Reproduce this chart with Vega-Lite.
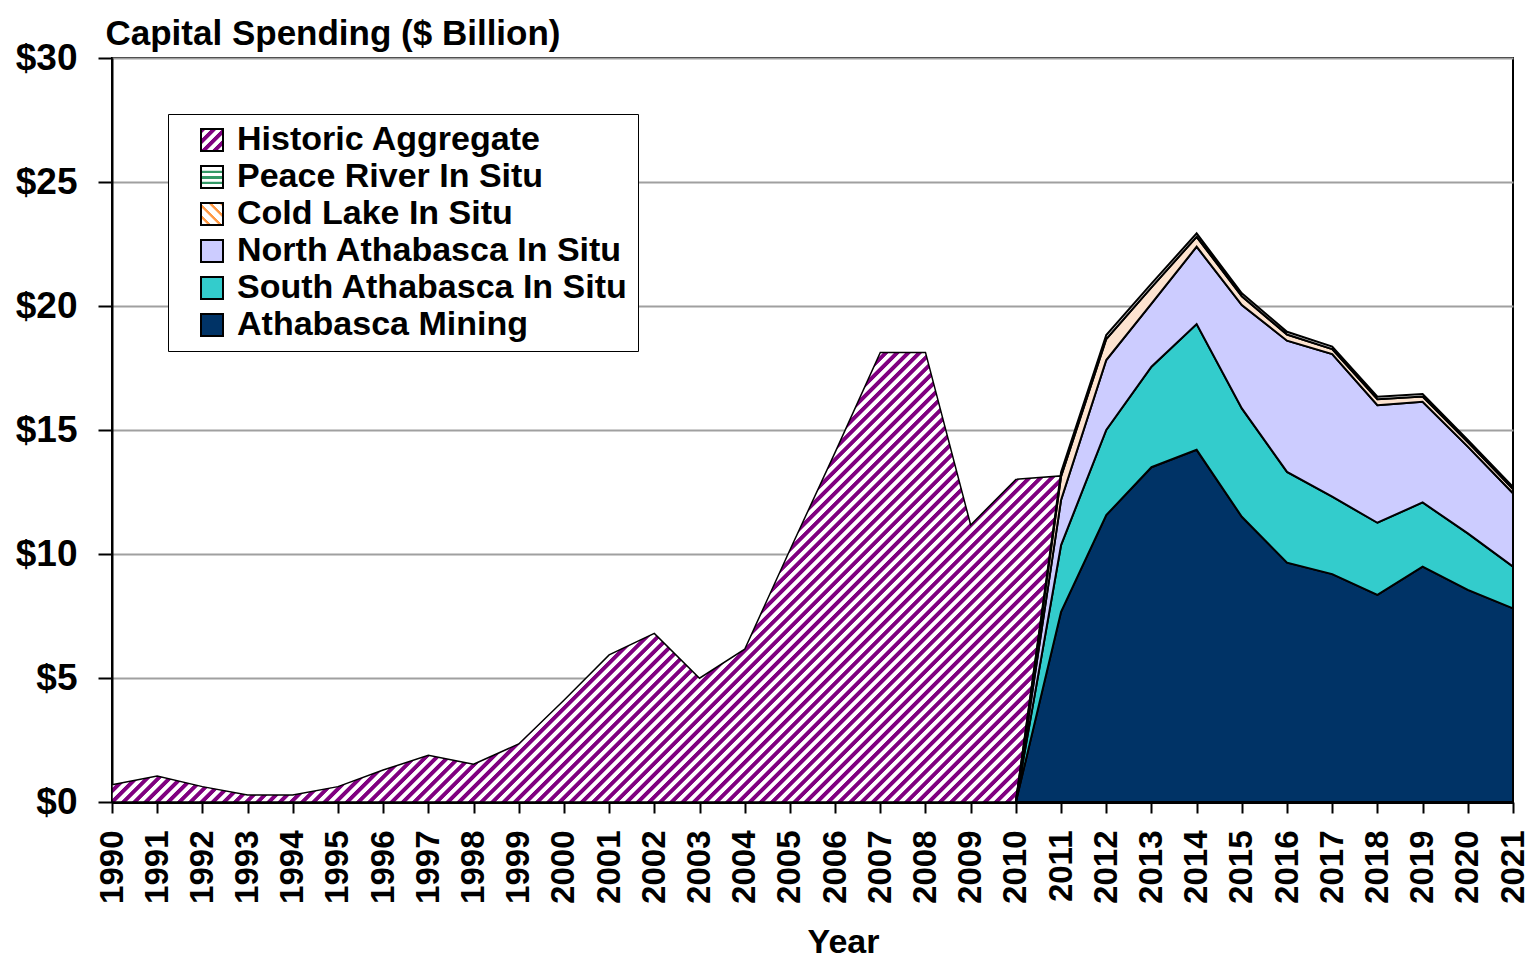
{
  "$schema": "https://vega.github.io/schema/vega-lite/v6.json",
  "width": 1401,
  "height": 744,
  "autosize": "none",
  "padding": {"left": 112, "top": 58, "right": 19, "bottom": 158},
  "background": "white",
  "config": {"view": {"stroke": "black", "strokeWidth": 2}, "font": "Liberation Sans"},
  "datasets": {
    "historic": [
      {"year": 1990, "value": 0.7}, {"year": 1991, "value": 1.05}, {"year": 1992, "value": 0.62},
      {"year": 1993, "value": 0.28}, {"year": 1994, "value": 0.28}, {"year": 1995, "value": 0.62},
      {"year": 1996, "value": 1.29}, {"year": 1997, "value": 1.88}, {"year": 1998, "value": 1.52},
      {"year": 1999, "value": 2.34}, {"year": 2000, "value": 4.1}, {"year": 2001, "value": 5.93},
      {"year": 2002, "value": 6.8}, {"year": 2003, "value": 4.99}, {"year": 2004, "value": 6.16},
      {"year": 2005, "value": 10.16}, {"year": 2006, "value": 14.1}, {"year": 2007, "value": 18.13},
      {"year": 2008, "value": 18.13}, {"year": 2009, "value": 11.17}, {"year": 2010, "value": 13.01},
      {"year": 2011, "value": 13.15}
    ],
    "forecast": [
      {"year": 2010, "series": "Athabasca Mining", "value": 0},
      {"year": 2010, "series": "South Athabasca In Situ", "value": 0},
      {"year": 2010, "series": "North Athabasca In Situ", "value": 0},
      {"year": 2010, "series": "Cold Lake In Situ", "value": 0},
      {"year": 2010, "series": "Peace River In Situ", "value": 0},
      {"year": 2011, "series": "Athabasca Mining", "value": 7.67},
      {"year": 2011, "series": "South Athabasca In Situ", "value": 2.69},
      {"year": 2011, "series": "North Athabasca In Situ", "value": 1.82},
      {"year": 2011, "series": "Cold Lake In Situ", "value": 0.95},
      {"year": 2011, "series": "Peace River In Situ", "value": 0.17},
      {"year": 2012, "series": "Athabasca Mining", "value": 11.57},
      {"year": 2012, "series": "South Athabasca In Situ", "value": 3.43},
      {"year": 2012, "series": "North Athabasca In Situ", "value": 2.82},
      {"year": 2012, "series": "Cold Lake In Situ", "value": 0.85},
      {"year": 2012, "series": "Peace River In Situ", "value": 0.16},
      {"year": 2013, "series": "Athabasca Mining", "value": 13.5},
      {"year": 2013, "series": "South Athabasca In Situ", "value": 4.05},
      {"year": 2013, "series": "North Athabasca In Situ", "value": 2.55},
      {"year": 2013, "series": "Cold Lake In Situ", "value": 0.65},
      {"year": 2013, "series": "Peace River In Situ", "value": 0.15},
      {"year": 2014, "series": "Athabasca Mining", "value": 14.2},
      {"year": 2014, "series": "South Athabasca In Situ", "value": 5.07},
      {"year": 2014, "series": "North Athabasca In Situ", "value": 3.12},
      {"year": 2014, "series": "Cold Lake In Situ", "value": 0.4},
      {"year": 2014, "series": "Peace River In Situ", "value": 0.14},
      {"year": 2015, "series": "Athabasca Mining", "value": 11.5},
      {"year": 2015, "series": "South Athabasca In Situ", "value": 4.37},
      {"year": 2015, "series": "North Athabasca In Situ", "value": 4.17},
      {"year": 2015, "series": "Cold Lake In Situ", "value": 0.35},
      {"year": 2015, "series": "Peace River In Situ", "value": 0.12},
      {"year": 2016, "series": "Athabasca Mining", "value": 9.65},
      {"year": 2016, "series": "South Athabasca In Situ", "value": 3.66},
      {"year": 2016, "series": "North Athabasca In Situ", "value": 5.29},
      {"year": 2016, "series": "Cold Lake In Situ", "value": 0.25},
      {"year": 2016, "series": "Peace River In Situ", "value": 0.11},
      {"year": 2017, "series": "Athabasca Mining", "value": 9.19},
      {"year": 2017, "series": "South Athabasca In Situ", "value": 3.12},
      {"year": 2017, "series": "North Athabasca In Situ", "value": 5.75},
      {"year": 2017, "series": "Cold Lake In Situ", "value": 0.2},
      {"year": 2017, "series": "Peace River In Situ", "value": 0.1},
      {"year": 2018, "series": "Athabasca Mining", "value": 8.35},
      {"year": 2018, "series": "South Athabasca In Situ", "value": 2.91},
      {"year": 2018, "series": "North Athabasca In Situ", "value": 4.74},
      {"year": 2018, "series": "Cold Lake In Situ", "value": 0.24},
      {"year": 2018, "series": "Peace River In Situ", "value": 0.1},
      {"year": 2019, "series": "Athabasca Mining", "value": 9.49},
      {"year": 2019, "series": "South Athabasca In Situ", "value": 2.59},
      {"year": 2019, "series": "North Athabasca In Situ", "value": 4.06},
      {"year": 2019, "series": "Cold Lake In Situ", "value": 0.21},
      {"year": 2019, "series": "Peace River In Situ", "value": 0.1},
      {"year": 2020, "series": "Athabasca Mining", "value": 8.55},
      {"year": 2020, "series": "South Athabasca In Situ", "value": 2.28},
      {"year": 2020, "series": "North Athabasca In Situ", "value": 3.5},
      {"year": 2020, "series": "Cold Lake In Situ", "value": 0.18},
      {"year": 2020, "series": "Peace River In Situ", "value": 0.09},
      {"year": 2021, "series": "Athabasca Mining", "value": 7.81},
      {"year": 2021, "series": "South Athabasca In Situ", "value": 1.68},
      {"year": 2021, "series": "North Athabasca In Situ", "value": 2.96},
      {"year": 2021, "series": "Cold Lake In Situ", "value": 0.17},
      {"year": 2021, "series": "Peace River In Situ", "value": 0.09}
    ]
  },
  "encoding": {
    "x": {
      "field": "year", "type": "quantitative",
      "scale": {"domain": [1990, 2021], "nice": false, "zero": false},
      "axis": {
        "values": [1990,1991,1992,1993,1994,1995,1996,1997,1998,1999,2000,2001,2002,2003,2004,2005,2006,2007,2008,2009,2010,2011,2012,2013,2014,2015,2016,2017,2018,2019,2020,2021],
        "format": "d", "labelAngle": -90, "labelAlign": "right", "labelBaseline": "middle",
        "labelFont": "Liberation Sans",
        "labelFontSize": 33, "labelFontWeight": "bold", "labelColor": "black",
        "labelPadding": 17, "labelOverlap": false, "labelFlush": false, "labelBound": false,
        "tickSize": 11, "tickColor": "black", "tickWidth": 2,
        "domainColor": "black", "domainWidth": 3, "grid": false,
        "title": "Year", "titleFont": "Liberation Sans",
        "titleFontSize": 34, "titleFontWeight": "bold", "titleColor": "black",
        "titleX": 731, "titleY": 150, "titleAlign": "center", "titleBaseline": "alphabetic"
      }
    },
    "y": {
      "field": "value", "type": "quantitative",
      "scale": {"domain": [0, 30], "nice": false},
      "axis": {
        "values": [0, 5, 10, 15, 20, 25, 30],
        "labelExpr": "'$' + datum.value",
        "labelFont": "Liberation Sans", "labelFontSize": 37, "labelFontWeight": "bold", "labelColor": "black",
        "labelPadding": 21, "labelFlush": false,
        "tickSize": 14, "tickColor": "black", "tickWidth": 2,
        "domainColor": "black", "domainWidth": 2,
        "grid": true, "gridColor": "#a0a0a0", "gridWidth": 2,
        "title": "Capital Spending ($ Billion)", "titleAngle": 0, "titleAlign": "left", "titleBaseline": "alphabetic",
        "titleX": -7, "titleY": -14,
        "titleFont": "Liberation Sans",
        "titleFontSize": 35, "titleFontWeight": "bold", "titleColor": "black"
      }
    }
  },
  "layer": [
    {
      "data": {"name": "historic"},
      "mark": {
        "type": "area",
        "stroke": "black",
        "strokeWidth": 1.5,
        "fill": {
          "gradient": "linear", "x1": 0, "y1": 0, "x2": 1.2036, "y2": 0.5701,
          "stops": [
{"offset":0,"color":"purple"},{"offset":0.0032,"color":"purple"},{"offset":0.004,"color":"white"},{"offset":0.0072,"color":"white"},{"offset":0.008,"color":"purple"},{"offset":0.0112,"color":"purple"},{"offset":0.012,"color":"white"},{"offset":0.0152,"color":"white"},{"offset":0.016,"color":"purple"},{"offset":0.0192,"color":"purple"},{"offset":0.02,"color":"white"},{"offset":0.0232,"color":"white"},{"offset":0.024,"color":"purple"},{"offset":0.0272,"color":"purple"},{"offset":0.028,"color":"white"},{"offset":0.0312,"color":"white"},{"offset":0.032,"color":"purple"},{"offset":0.0352,"color":"purple"},{"offset":0.036,"color":"white"},{"offset":0.0392,"color":"white"},
{"offset":0.04,"color":"purple"},{"offset":0.0432,"color":"purple"},{"offset":0.044,"color":"white"},{"offset":0.0472,"color":"white"},{"offset":0.048,"color":"purple"},{"offset":0.0512,"color":"purple"},{"offset":0.052,"color":"white"},{"offset":0.0552,"color":"white"},{"offset":0.056,"color":"purple"},{"offset":0.0592,"color":"purple"},{"offset":0.06,"color":"white"},{"offset":0.0632,"color":"white"},{"offset":0.064,"color":"purple"},{"offset":0.0672,"color":"purple"},{"offset":0.068,"color":"white"},{"offset":0.0712,"color":"white"},{"offset":0.072,"color":"purple"},{"offset":0.0752,"color":"purple"},{"offset":0.076,"color":"white"},{"offset":0.0792,"color":"white"},
{"offset":0.08,"color":"purple"},{"offset":0.0832,"color":"purple"},{"offset":0.084,"color":"white"},{"offset":0.0872,"color":"white"},{"offset":0.088,"color":"purple"},{"offset":0.0912,"color":"purple"},{"offset":0.092,"color":"white"},{"offset":0.0952,"color":"white"},{"offset":0.096,"color":"purple"},{"offset":0.0992,"color":"purple"},{"offset":0.1,"color":"white"},{"offset":0.1032,"color":"white"},{"offset":0.104,"color":"purple"},{"offset":0.1072,"color":"purple"},{"offset":0.108,"color":"white"},{"offset":0.1112,"color":"white"},{"offset":0.112,"color":"purple"},{"offset":0.1152,"color":"purple"},{"offset":0.116,"color":"white"},{"offset":0.1192,"color":"white"},
{"offset":0.12,"color":"purple"},{"offset":0.1232,"color":"purple"},{"offset":0.124,"color":"white"},{"offset":0.1272,"color":"white"},{"offset":0.128,"color":"purple"},{"offset":0.1312,"color":"purple"},{"offset":0.132,"color":"white"},{"offset":0.1352,"color":"white"},{"offset":0.136,"color":"purple"},{"offset":0.1392,"color":"purple"},{"offset":0.14,"color":"white"},{"offset":0.1432,"color":"white"},{"offset":0.144,"color":"purple"},{"offset":0.1472,"color":"purple"},{"offset":0.148,"color":"white"},{"offset":0.1512,"color":"white"},{"offset":0.152,"color":"purple"},{"offset":0.1552,"color":"purple"},{"offset":0.156,"color":"white"},{"offset":0.1592,"color":"white"},
{"offset":0.16,"color":"purple"},{"offset":0.1632,"color":"purple"},{"offset":0.164,"color":"white"},{"offset":0.1672,"color":"white"},{"offset":0.168,"color":"purple"},{"offset":0.1712,"color":"purple"},{"offset":0.172,"color":"white"},{"offset":0.1752,"color":"white"},{"offset":0.176,"color":"purple"},{"offset":0.1792,"color":"purple"},{"offset":0.18,"color":"white"},{"offset":0.1832,"color":"white"},{"offset":0.184,"color":"purple"},{"offset":0.1872,"color":"purple"},{"offset":0.188,"color":"white"},{"offset":0.1912,"color":"white"},{"offset":0.192,"color":"purple"},{"offset":0.1952,"color":"purple"},{"offset":0.196,"color":"white"},{"offset":0.1992,"color":"white"},
{"offset":0.2,"color":"purple"},{"offset":0.2032,"color":"purple"},{"offset":0.204,"color":"white"},{"offset":0.2072,"color":"white"},{"offset":0.208,"color":"purple"},{"offset":0.2112,"color":"purple"},{"offset":0.212,"color":"white"},{"offset":0.2152,"color":"white"},{"offset":0.216,"color":"purple"},{"offset":0.2192,"color":"purple"},{"offset":0.22,"color":"white"},{"offset":0.2232,"color":"white"},{"offset":0.224,"color":"purple"},{"offset":0.2272,"color":"purple"},{"offset":0.228,"color":"white"},{"offset":0.2312,"color":"white"},{"offset":0.232,"color":"purple"},{"offset":0.2352,"color":"purple"},{"offset":0.236,"color":"white"},{"offset":0.2392,"color":"white"},
{"offset":0.24,"color":"purple"},{"offset":0.2432,"color":"purple"},{"offset":0.244,"color":"white"},{"offset":0.2472,"color":"white"},{"offset":0.248,"color":"purple"},{"offset":0.2512,"color":"purple"},{"offset":0.252,"color":"white"},{"offset":0.2552,"color":"white"},{"offset":0.256,"color":"purple"},{"offset":0.2592,"color":"purple"},{"offset":0.26,"color":"white"},{"offset":0.2632,"color":"white"},{"offset":0.264,"color":"purple"},{"offset":0.2672,"color":"purple"},{"offset":0.268,"color":"white"},{"offset":0.2712,"color":"white"},{"offset":0.272,"color":"purple"},{"offset":0.2752,"color":"purple"},{"offset":0.276,"color":"white"},{"offset":0.2792,"color":"white"},
{"offset":0.28,"color":"purple"},{"offset":0.2832,"color":"purple"},{"offset":0.284,"color":"white"},{"offset":0.2872,"color":"white"},{"offset":0.288,"color":"purple"},{"offset":0.2912,"color":"purple"},{"offset":0.292,"color":"white"},{"offset":0.2952,"color":"white"},{"offset":0.296,"color":"purple"},{"offset":0.2992,"color":"purple"},{"offset":0.3,"color":"white"},{"offset":0.3032,"color":"white"},{"offset":0.304,"color":"purple"},{"offset":0.3072,"color":"purple"},{"offset":0.308,"color":"white"},{"offset":0.3112,"color":"white"},{"offset":0.312,"color":"purple"},{"offset":0.3152,"color":"purple"},{"offset":0.316,"color":"white"},{"offset":0.3192,"color":"white"},
{"offset":0.32,"color":"purple"},{"offset":0.3232,"color":"purple"},{"offset":0.324,"color":"white"},{"offset":0.3272,"color":"white"},{"offset":0.328,"color":"purple"},{"offset":0.3312,"color":"purple"},{"offset":0.332,"color":"white"},{"offset":0.3352,"color":"white"},{"offset":0.336,"color":"purple"},{"offset":0.3392,"color":"purple"},{"offset":0.34,"color":"white"},{"offset":0.3432,"color":"white"},{"offset":0.344,"color":"purple"},{"offset":0.3472,"color":"purple"},{"offset":0.348,"color":"white"},{"offset":0.3512,"color":"white"},{"offset":0.352,"color":"purple"},{"offset":0.3552,"color":"purple"},{"offset":0.356,"color":"white"},{"offset":0.3592,"color":"white"},
{"offset":0.36,"color":"purple"},{"offset":0.3632,"color":"purple"},{"offset":0.364,"color":"white"},{"offset":0.3672,"color":"white"},{"offset":0.368,"color":"purple"},{"offset":0.3712,"color":"purple"},{"offset":0.372,"color":"white"},{"offset":0.3752,"color":"white"},{"offset":0.376,"color":"purple"},{"offset":0.3792,"color":"purple"},{"offset":0.38,"color":"white"},{"offset":0.3832,"color":"white"},{"offset":0.384,"color":"purple"},{"offset":0.3872,"color":"purple"},{"offset":0.388,"color":"white"},{"offset":0.3912,"color":"white"},{"offset":0.392,"color":"purple"},{"offset":0.3952,"color":"purple"},{"offset":0.396,"color":"white"},{"offset":0.3992,"color":"white"},
{"offset":0.4,"color":"purple"},{"offset":0.4032,"color":"purple"},{"offset":0.404,"color":"white"},{"offset":0.4072,"color":"white"},{"offset":0.408,"color":"purple"},{"offset":0.4112,"color":"purple"},{"offset":0.412,"color":"white"},{"offset":0.4152,"color":"white"},{"offset":0.416,"color":"purple"},{"offset":0.4192,"color":"purple"},{"offset":0.42,"color":"white"},{"offset":0.4232,"color":"white"},{"offset":0.424,"color":"purple"},{"offset":0.4272,"color":"purple"},{"offset":0.428,"color":"white"},{"offset":0.4312,"color":"white"},{"offset":0.432,"color":"purple"},{"offset":0.4352,"color":"purple"},{"offset":0.436,"color":"white"},{"offset":0.4392,"color":"white"},
{"offset":0.44,"color":"purple"},{"offset":0.4432,"color":"purple"},{"offset":0.444,"color":"white"},{"offset":0.4472,"color":"white"},{"offset":0.448,"color":"purple"},{"offset":0.4512,"color":"purple"},{"offset":0.452,"color":"white"},{"offset":0.4552,"color":"white"},{"offset":0.456,"color":"purple"},{"offset":0.4592,"color":"purple"},{"offset":0.46,"color":"white"},{"offset":0.4632,"color":"white"},{"offset":0.464,"color":"purple"},{"offset":0.4672,"color":"purple"},{"offset":0.468,"color":"white"},{"offset":0.4712,"color":"white"},{"offset":0.472,"color":"purple"},{"offset":0.4752,"color":"purple"},{"offset":0.476,"color":"white"},{"offset":0.4792,"color":"white"},
{"offset":0.48,"color":"purple"},{"offset":0.4832,"color":"purple"},{"offset":0.484,"color":"white"},{"offset":0.4872,"color":"white"},{"offset":0.488,"color":"purple"},{"offset":0.4912,"color":"purple"},{"offset":0.492,"color":"white"},{"offset":0.4952,"color":"white"},{"offset":0.496,"color":"purple"},{"offset":0.4992,"color":"purple"},{"offset":0.5,"color":"white"},{"offset":0.5032,"color":"white"},{"offset":0.504,"color":"purple"},{"offset":0.5072,"color":"purple"},{"offset":0.508,"color":"white"},{"offset":0.5112,"color":"white"},{"offset":0.512,"color":"purple"},{"offset":0.5152,"color":"purple"},{"offset":0.516,"color":"white"},{"offset":0.5192,"color":"white"},
{"offset":0.52,"color":"purple"},{"offset":0.5232,"color":"purple"},{"offset":0.524,"color":"white"},{"offset":0.5272,"color":"white"},{"offset":0.528,"color":"purple"},{"offset":0.5312,"color":"purple"},{"offset":0.532,"color":"white"},{"offset":0.5352,"color":"white"},{"offset":0.536,"color":"purple"},{"offset":0.5392,"color":"purple"},{"offset":0.54,"color":"white"},{"offset":0.5432,"color":"white"},{"offset":0.544,"color":"purple"},{"offset":0.5472,"color":"purple"},{"offset":0.548,"color":"white"},{"offset":0.5512,"color":"white"},{"offset":0.552,"color":"purple"},{"offset":0.5552,"color":"purple"},{"offset":0.556,"color":"white"},{"offset":0.5592,"color":"white"},
{"offset":0.56,"color":"purple"},{"offset":0.5632,"color":"purple"},{"offset":0.564,"color":"white"},{"offset":0.5672,"color":"white"},{"offset":0.568,"color":"purple"},{"offset":0.5712,"color":"purple"},{"offset":0.572,"color":"white"},{"offset":0.5752,"color":"white"},{"offset":0.576,"color":"purple"},{"offset":0.5792,"color":"purple"},{"offset":0.58,"color":"white"},{"offset":0.5832,"color":"white"},{"offset":0.584,"color":"purple"},{"offset":0.5872,"color":"purple"},{"offset":0.588,"color":"white"},{"offset":0.5912,"color":"white"},{"offset":0.592,"color":"purple"},{"offset":0.5952,"color":"purple"},{"offset":0.596,"color":"white"},{"offset":0.5992,"color":"white"},
{"offset":0.6,"color":"purple"},{"offset":0.6032,"color":"purple"},{"offset":0.604,"color":"white"},{"offset":0.6072,"color":"white"},{"offset":0.608,"color":"purple"},{"offset":0.6112,"color":"purple"},{"offset":0.612,"color":"white"},{"offset":0.6152,"color":"white"},{"offset":0.616,"color":"purple"},{"offset":0.6192,"color":"purple"},{"offset":0.62,"color":"white"},{"offset":0.6232,"color":"white"},{"offset":0.624,"color":"purple"},{"offset":0.6272,"color":"purple"},{"offset":0.628,"color":"white"},{"offset":0.6312,"color":"white"},{"offset":0.632,"color":"purple"},{"offset":0.6352,"color":"purple"},{"offset":0.636,"color":"white"},{"offset":0.6392,"color":"white"},
{"offset":0.64,"color":"purple"},{"offset":0.6432,"color":"purple"},{"offset":0.644,"color":"white"},{"offset":0.6472,"color":"white"},{"offset":0.648,"color":"purple"},{"offset":0.6512,"color":"purple"},{"offset":0.652,"color":"white"},{"offset":0.6552,"color":"white"},{"offset":0.656,"color":"purple"},{"offset":0.6592,"color":"purple"},{"offset":0.66,"color":"white"},{"offset":0.6632,"color":"white"},{"offset":0.664,"color":"purple"},{"offset":0.6672,"color":"purple"},{"offset":0.668,"color":"white"},{"offset":0.6712,"color":"white"},{"offset":0.672,"color":"purple"},{"offset":0.6752,"color":"purple"},{"offset":0.676,"color":"white"},{"offset":0.6792,"color":"white"},
{"offset":0.68,"color":"purple"},{"offset":0.6832,"color":"purple"},{"offset":0.684,"color":"white"},{"offset":0.6872,"color":"white"},{"offset":0.688,"color":"purple"},{"offset":0.6912,"color":"purple"},{"offset":0.692,"color":"white"},{"offset":0.6952,"color":"white"},{"offset":0.696,"color":"purple"},{"offset":0.6992,"color":"purple"},{"offset":0.7,"color":"white"},{"offset":0.7032,"color":"white"},{"offset":0.704,"color":"purple"},{"offset":0.7072,"color":"purple"},{"offset":0.708,"color":"white"},{"offset":0.7112,"color":"white"},{"offset":0.712,"color":"purple"},{"offset":0.7152,"color":"purple"},{"offset":0.716,"color":"white"},{"offset":0.7192,"color":"white"},
{"offset":0.72,"color":"purple"},{"offset":0.7232,"color":"purple"},{"offset":0.724,"color":"white"},{"offset":0.7272,"color":"white"},{"offset":0.728,"color":"purple"},{"offset":0.7312,"color":"purple"},{"offset":0.732,"color":"white"},{"offset":0.7352,"color":"white"},{"offset":0.736,"color":"purple"},{"offset":0.7392,"color":"purple"},{"offset":0.74,"color":"white"},{"offset":0.7432,"color":"white"},{"offset":0.744,"color":"purple"},{"offset":0.7472,"color":"purple"},{"offset":0.748,"color":"white"},{"offset":0.7512,"color":"white"},{"offset":0.752,"color":"purple"},{"offset":0.7552,"color":"purple"},{"offset":0.756,"color":"white"},{"offset":0.7592,"color":"white"},
{"offset":0.76,"color":"purple"},{"offset":0.7632,"color":"purple"},{"offset":0.764,"color":"white"},{"offset":0.7672,"color":"white"},{"offset":0.768,"color":"purple"},{"offset":0.7712,"color":"purple"},{"offset":0.772,"color":"white"},{"offset":0.7752,"color":"white"},{"offset":0.776,"color":"purple"},{"offset":0.7792,"color":"purple"},{"offset":0.78,"color":"white"},{"offset":0.7832,"color":"white"},{"offset":0.784,"color":"purple"},{"offset":0.7872,"color":"purple"},{"offset":0.788,"color":"white"},{"offset":0.7912,"color":"white"},{"offset":0.792,"color":"purple"},{"offset":0.7952,"color":"purple"},{"offset":0.796,"color":"white"},{"offset":0.7992,"color":"white"},
{"offset":0.8,"color":"purple"},{"offset":0.8032,"color":"purple"},{"offset":0.804,"color":"white"},{"offset":0.8072,"color":"white"},{"offset":0.808,"color":"purple"},{"offset":0.8112,"color":"purple"},{"offset":0.812,"color":"white"},{"offset":0.8152,"color":"white"},{"offset":0.816,"color":"purple"},{"offset":0.8192,"color":"purple"},{"offset":0.82,"color":"white"},{"offset":0.8232,"color":"white"},{"offset":0.824,"color":"purple"},{"offset":0.8272,"color":"purple"},{"offset":0.828,"color":"white"},{"offset":0.8312,"color":"white"},{"offset":0.832,"color":"purple"},{"offset":0.8352,"color":"purple"},{"offset":0.836,"color":"white"},{"offset":0.8392,"color":"white"},
{"offset":0.84,"color":"purple"},{"offset":0.8432,"color":"purple"},{"offset":0.844,"color":"white"},{"offset":0.8472,"color":"white"},{"offset":0.848,"color":"purple"},{"offset":0.8512,"color":"purple"},{"offset":0.852,"color":"white"},{"offset":0.8552,"color":"white"},{"offset":0.856,"color":"purple"},{"offset":0.8592,"color":"purple"},{"offset":0.86,"color":"white"},{"offset":0.8632,"color":"white"},{"offset":0.864,"color":"purple"},{"offset":0.8672,"color":"purple"},{"offset":0.868,"color":"white"},{"offset":0.8712,"color":"white"},{"offset":0.872,"color":"purple"},{"offset":0.8752,"color":"purple"},{"offset":0.876,"color":"white"},{"offset":0.8792,"color":"white"},
{"offset":0.88,"color":"purple"},{"offset":0.8832,"color":"purple"},{"offset":0.884,"color":"white"},{"offset":0.8872,"color":"white"},{"offset":0.888,"color":"purple"},{"offset":0.8912,"color":"purple"},{"offset":0.892,"color":"white"},{"offset":0.8952,"color":"white"},{"offset":0.896,"color":"purple"},{"offset":0.8992,"color":"purple"},{"offset":0.9,"color":"white"},{"offset":0.9032,"color":"white"},{"offset":0.904,"color":"purple"},{"offset":0.9072,"color":"purple"},{"offset":0.908,"color":"white"},{"offset":0.9112,"color":"white"},{"offset":0.912,"color":"purple"},{"offset":0.9152,"color":"purple"},{"offset":0.916,"color":"white"},{"offset":0.9192,"color":"white"},
{"offset":0.92,"color":"purple"},{"offset":0.9232,"color":"purple"},{"offset":0.924,"color":"white"},{"offset":0.9272,"color":"white"},{"offset":0.928,"color":"purple"},{"offset":0.9312,"color":"purple"},{"offset":0.932,"color":"white"},{"offset":0.9352,"color":"white"},{"offset":0.936,"color":"purple"},{"offset":0.9392,"color":"purple"},{"offset":0.94,"color":"white"},{"offset":0.9432,"color":"white"},{"offset":0.944,"color":"purple"},{"offset":0.9472,"color":"purple"},{"offset":0.948,"color":"white"},{"offset":0.9512,"color":"white"},{"offset":0.952,"color":"purple"},{"offset":0.9552,"color":"purple"},{"offset":0.956,"color":"white"},{"offset":0.9592,"color":"white"},
{"offset":0.96,"color":"purple"},{"offset":0.9632,"color":"purple"},{"offset":0.964,"color":"white"},{"offset":0.9672,"color":"white"},{"offset":0.968,"color":"purple"},{"offset":0.9712,"color":"purple"},{"offset":0.972,"color":"white"},{"offset":0.9752,"color":"white"},{"offset":0.976,"color":"purple"},{"offset":0.9792,"color":"purple"},{"offset":0.98,"color":"white"},{"offset":0.9832,"color":"white"},{"offset":0.984,"color":"purple"},{"offset":0.9872,"color":"purple"},{"offset":0.988,"color":"white"},{"offset":0.9912,"color":"white"},{"offset":0.992,"color":"purple"},{"offset":0.9952,"color":"purple"},{"offset":0.996,"color":"white"},{"offset":0.9992,"color":"white"},
{"offset":1,"color":"purple"}
          ]
        }
      }
    },
    {
      "data": {"name": "forecast"},
      "transform": [
        {"calculate": "indexof(['Athabasca Mining', 'South Athabasca In Situ', 'North Athabasca In Situ', 'Cold Lake In Situ', 'Peace River In Situ'], datum.series)", "as": "stackOrder"}
      ],
      "mark": {"type": "area", "stroke": "black", "strokeWidth": 2},
      "encoding": {
        "fill": {
          "field": "series", "type": "nominal",
          "scale": {
            "domain": ["Peace River In Situ", "Cold Lake In Situ", "North Athabasca In Situ", "South Athabasca In Situ", "Athabasca Mining"],
            "range": ["#ffffff", "#fde3cf", "#ccccff", "#33cccc", "#003366"]
          },
          "legend": null
        },
        "order": {"field": "stackOrder", "type": "quantitative", "sort": "ascending"}
      }
    },
    {
      "data": {"name": "forecast"},
      "mark": {"type": "square", "opacity": 0},
      "encoding": {
        "stroke": {
          "field": "series", "type": "nominal",
          "scale": {
            "domain": ["Historic Aggregate", "Peace River In Situ", "Cold Lake In Situ", "North Athabasca In Situ", "South Athabasca In Situ", "Athabasca Mining"],
            "range": ["black", "black", "black", "black", "black", "black"]
          },
          "legend": {
            "title": null, "orient": "none", "legendX": 56, "legendY": 56,
            "symbolType": "square", "symbolSize": 484, "symbolOpacity": 1,
            "symbolStrokeWidth": 2,
            "labelFont": "Liberation Sans", "labelFontSize": 34, "labelFontWeight": "bold", "labelColor": "black",
            "labelOffset": 8, "labelLimit": 0, "symbolOffset": 18, "padding": 9, "rowPadding": 3,
            "strokeColor": "black", "fillColor": "white",
            "encoding": {
              "symbols": {
                "strokeWidth": {"value": 2}, "opacity": {"value": 1},
                "fill": {"value": {"expr": "datum.value === 'Historic Aggregate' ? {gradient: 'linear', x1: 0, y1: 0, x2: 1, y2: 1, stops: [{offset: 0, color: 'purple'}, {offset: 0.1, color: 'purple'}, {offset: 0.125, color: 'white'}, {offset: 0.225, color: 'white'}, {offset: 0.25, color: 'purple'}, {offset: 0.35, color: 'purple'}, {offset: 0.375, color: 'white'}, {offset: 0.475, color: 'white'}, {offset: 0.5, color: 'purple'}, {offset: 0.6, color: 'purple'}, {offset: 0.625, color: 'white'}, {offset: 0.725, color: 'white'}, {offset: 0.75, color: 'purple'}, {offset: 0.85, color: 'purple'}, {offset: 0.875, color: 'white'}, {offset: 0.975, color: 'white'}, {offset: 1, color: 'purple'}]} : datum.value === 'Peace River In Situ' ? {gradient: 'linear', x1: 0, y1: 0, x2: 0, y2: 1, stops: [{offset: 0, color: 'white'}, {offset: 0.2, color: 'white'}, {offset: 0.22, color: '#339966'}, {offset: 0.32, color: '#339966'}, {offset: 0.34, color: 'white'}, {offset: 0.45, color: 'white'}, {offset: 0.47, color: '#339966'}, {offset: 0.57, color: '#339966'}, {offset: 0.59, color: 'white'}, {offset: 0.7, color: 'white'}, {offset: 0.72, color: '#339966'}, {offset: 0.82, color: '#339966'}, {offset: 0.84, color: 'white'}, {offset: 1, color: 'white'}]} : datum.value === 'Cold Lake In Situ' ? {gradient: 'linear', x1: 0, y1: 1, x2: 1, y2: 0, stops: [{offset: 0, color: 'white'}, {offset: 0.15, color: 'white'}, {offset: 0.17, color: '#ff9944'}, {offset: 0.23, color: '#ff9944'}, {offset: 0.25, color: 'white'}, {offset: 0.4, color: 'white'}, {offset: 0.42, color: '#ff9944'}, {offset: 0.48, color: '#ff9944'}, {offset: 0.5, color: 'white'}, {offset: 0.65, color: 'white'}, {offset: 0.67, color: '#ff9944'}, {offset: 0.73, color: '#ff9944'}, {offset: 0.75, color: 'white'}, {offset: 0.9, color: 'white'}, {offset: 0.92, color: '#ff9944'}, {offset: 0.98, color: '#ff9944'}, {offset: 1, color: 'white'}]} : datum.value === 'North Athabasca In Situ' ? '#ccccff' : datum.value === 'South Athabasca In Situ' ? '#33cccc' : '#003366'"}}
              }
            }
          }
        }
      }
    }
  ]
}
